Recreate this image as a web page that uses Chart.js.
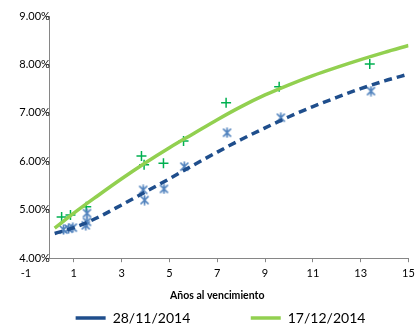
<!DOCTYPE html>
<html>
<head>
<meta charset="utf-8">
<script src="https://cdn.jsdelivr.net/npm/chart.js@4"></script>
<style>
    html, body { margin: 0; padding: 0; background: #fff; }
    #wrap { width: 415px; height: 327px; }
</style>
</head>
<body>
<div id="wrap"><canvas id="grafico"></canvas></div>
<script>
// Observaciones (años al vencimiento, rendimiento %)
const obsNovX = [0.57, 0.78, 0.96, 1.55, 1.55, 1.5, 3.9, 3.96, 4.77, 5.62, 7.41, 9.66, 13.43];
const obsNovY = [4.59, 4.61, 4.63, 4.93, 4.75, 4.68, 5.41, 5.20, 5.43, 5.89, 6.59, 6.90, 7.45];
const obsDicX = [0.49, 0.86, 1.52, 3.83, 3.94, 4.75, 5.59, 7.37, 9.59, 13.38];
const obsDicY = [4.85, 4.89, 5.06, 6.11, 5.93, 5.96, 6.42, 7.21, 7.54, 8.01];

// Curvas ajustadas
const curvaX = [0.2, 1, 2, 3, 4, 5, 6, 7, 8, 9, 10, 11, 12, 13, 14, 15];
const curvaNov = [4.51, 4.63, 4.84, 5.10, 5.37, 5.64, 5.92, 6.19, 6.45, 6.69, 6.92, 7.13, 7.32, 7.50, 7.66, 7.80];
const curvaDic = [4.62, 4.93, 5.29, 5.64, 5.97, 6.28, 6.57, 6.86, 7.13, 7.37, 7.58, 7.77, 7.94, 8.10, 8.25, 8.39];

const etiquetas = ['28/11/2014', '17/12/2014'];

const fuente = "Lato, 'Liberation Sans', sans-serif";

function puntos(xs, ys) {
    return xs.map((x, i) => ({ x: x, y: ys[i] }));
}

// marcador tipo estrella de Excel (X con barra vertical)
function marcadorEstrella(color) {
    const c = document.createElement('canvas');
    c.width = 11; c.height = 11;
    const g = c.getContext('2d');
    g.strokeStyle = color;
    g.lineWidth = 1.7;
    g.beginPath();
    g.moveTo(1.5, 1.5); g.lineTo(9.5, 9.5);
    g.moveTo(9.5, 1.5); g.lineTo(1.5, 9.5);
    g.moveTo(5.5, 0.5); g.lineTo(5.5, 10.5);
    g.stroke();
    return c;
}

// linea del eje X desde x=0 (como en Excel)
const ejeX = {
    id: 'ejeX',
    afterDraw(chart) {
        const { ctx, scales } = chart;
        const x0 = scales.x.getPixelForValue(0);
        const x1 = scales.x.getPixelForValue(15);
        const y0 = scales.y.getPixelForValue(4);
        ctx.save();
        ctx.strokeStyle = '#868686';
        ctx.lineWidth = 1;
        ctx.beginPath();
        ctx.moveTo(x0, Math.round(y0) + 0.5);
        ctx.lineTo(x1, Math.round(y0) + 0.5);
        ctx.stroke();
        ctx.restore();
    }
};

const ctx = document.getElementById('grafico').getContext('2d');
new Chart(ctx, {
    type: 'scatter',
    data: {
        datasets: [
            {
                label: etiquetas[0],
                type: 'line',
                data: puntos(curvaX, curvaNov),
                borderColor: '#1F4E8C',
                backgroundColor: '#1F4E8C',
                borderWidth: 3.5,
                borderDash: [8, 5],
                pointRadius: 0,
                cubicInterpolationMode: 'monotone',
                fill: false,
                order: 1
            },
            {
                label: etiquetas[1],
                type: 'line',
                data: puntos(curvaX, curvaDic),
                borderColor: '#92D050',
                backgroundColor: '#92D050',
                borderWidth: 3.5,
                pointRadius: 0,
                cubicInterpolationMode: 'monotone',
                fill: false,
                order: 1
            },
            {
                label: 'obs1',
                data: puntos(obsNovX, obsNovY),
                pointStyle: marcadorEstrella('#4F81BD'),
                pointRadius: 5,
                borderColor: '#4F81BD',
                order: 2
            },
            {
                label: 'obs2',
                data: puntos(obsDicX, obsDicY),
                pointStyle: 'cross',
                pointRadius: 5,
                borderWidth: 1.5,
                borderColor: '#00B050',
                order: 2
            }
        ]
    },
    options: {
        responsive: true,
        maintainAspectRatio: false,
        animation: false,
        layout: { padding: { left: 26, right: 0, top: 16, bottom: -8 } },
        plugins: {
            tooltip: { enabled: false },
            legend: {
                position: 'bottom',
                labels: {
                    generateLabels: (chart) => {
                        const items = Chart.defaults.plugins.legend.labels.generateLabels(chart)
                            .filter(item => etiquetas.includes(item.text));
                        // separacion entre las dos entradas
                        items[0].text = items[0].text + '\u2003'.repeat(5);
                        return items;
                    },
                    usePointStyle: true,
                    pointStyle: 'line',
                    pointStyleWidth: 30,
                    boxHeight: 14,
                    padding: 8,
                    color: '#000',
                    font: { family: fuente, size: 14 }
                }
            }
        },
        scales: {
            x: {
                type: 'linear',
                min: -1,
                max: 15,
                afterBuildTicks: (scale) => {
                    scale.ticks = [-1, 1, 3, 5, 7, 9, 11, 13, 15].map(v => ({ value: v }));
                },
                // el "15" queda cortado en el borde, como en el original
                afterFit: (scale) => { scale.paddingRight = 0; },
                border: { display: false },
                grid: {
                    drawOnChartArea: false,
                    tickLength: 4,
                    color: (c) => (c.tick && c.tick.value < 0) ? 'rgba(0,0,0,0)' : '#868686'
                },
                ticks: {
                    color: '#000',
                    padding: 5,
                    maxRotation: 0,
                    font: { family: fuente, size: 11 }
                },
                title: {
                    display: true,
                    text: 'Años al vencimiento',
                    color: '#000',
                    padding: { top: 4, bottom: 1 },
                    font: { family: fuente, size: 10.5, weight: 'bold' }
                }
            },
            y: {
                type: 'linear',
                position: { x: 0 },
                min: 4,
                max: 9,
                border: { display: true, color: '#868686' },
                grid: {
                    drawOnChartArea: false,
                    tickLength: 4,
                    color: '#868686'
                },
                ticks: {
                    stepSize: 1,
                    color: '#000',
                    padding: 4,
                    font: { family: fuente, size: 11 },
                    callback: (v) => v.toFixed(2) + '%'
                }
            }
        }
    },
    plugins: [ejeX]
});
</script>
</body>
</html>
